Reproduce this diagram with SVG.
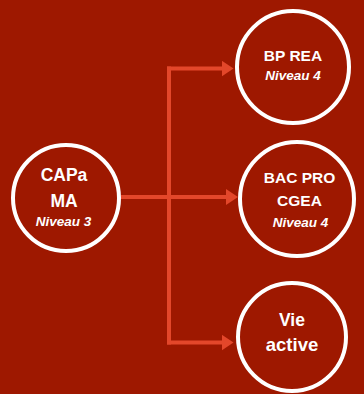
<svg xmlns="http://www.w3.org/2000/svg" width="364" height="394" viewBox="0 0 364 394">
  <style>
    .node { fill: none; stroke: #ffffff; stroke-width: 4; }
    .t { fill: #ffffff; font-family: "Liberation Sans", Arial, sans-serif; font-weight: bold; text-anchor: middle; }
    .lv { fill: #ffffff; font-family: "Liberation Sans", Arial, sans-serif; font-weight: bold; font-style: italic; text-anchor: middle; font-size: 13.5px; }
    .edge { fill: none; stroke: #E3472A; stroke-width: 4; }
  </style>
  <defs>
    <marker id="arrow" viewBox="0 0 12 16" refX="6" refY="8" markerWidth="12" markerHeight="16" markerUnits="userSpaceOnUse" orient="auto">
      <path d="M0,0 L12,8 L0,16 Z" fill="#E3472A"/>
    </marker>
  </defs>
  <rect width="364" height="394" fill="#9E1800"/>
  <g id="connectors">
    <path class="edge" d="M169,66.5 V344.5"/>
    <path class="edge" d="M121,197 H232" marker-end="url(#arrow)"/>
    <path class="edge" d="M167,68.5 H227.5" marker-end="url(#arrow)"/>
    <path class="edge" d="M167,342.5 H227.5" marker-end="url(#arrow)"/>
  </g>
  <g id="capa">
    <circle class="node" cx="66" cy="198" r="53"/>
    <text class="t" x="64" y="180.5" font-size="17.5">CAPa</text>
    <text class="t" x="64" y="206.5" font-size="17.5">MA</text>
    <text class="lv" x="63.5" y="225.5">Niveau 3</text>
  </g>
  <g id="bprea">
    <circle class="node" cx="293" cy="67" r="56"/>
    <text class="t" x="293" y="61" font-size="15.5">BP REA</text>
    <text class="lv" x="293" y="80">Niveau 4</text>
  </g>
  <g id="bacpro">
    <circle class="node" cx="297" cy="199" r="57"/>
    <text class="t" x="299.5" y="183.3" font-size="15.5">BAC PRO</text>
    <text class="t" x="299.5" y="206" font-size="15.5">CGEA</text>
    <text class="lv" x="300.5" y="226.7" font-size="14.5px">Niveau 4</text>
  </g>
  <g id="vieactive">
    <circle class="node" cx="292" cy="337" r="54"/>
    <text class="t" x="292" y="326" font-size="17.5">Vie</text>
    <text class="t" x="292" y="350.7" font-size="18.5">active</text>
  </g>
</svg>
